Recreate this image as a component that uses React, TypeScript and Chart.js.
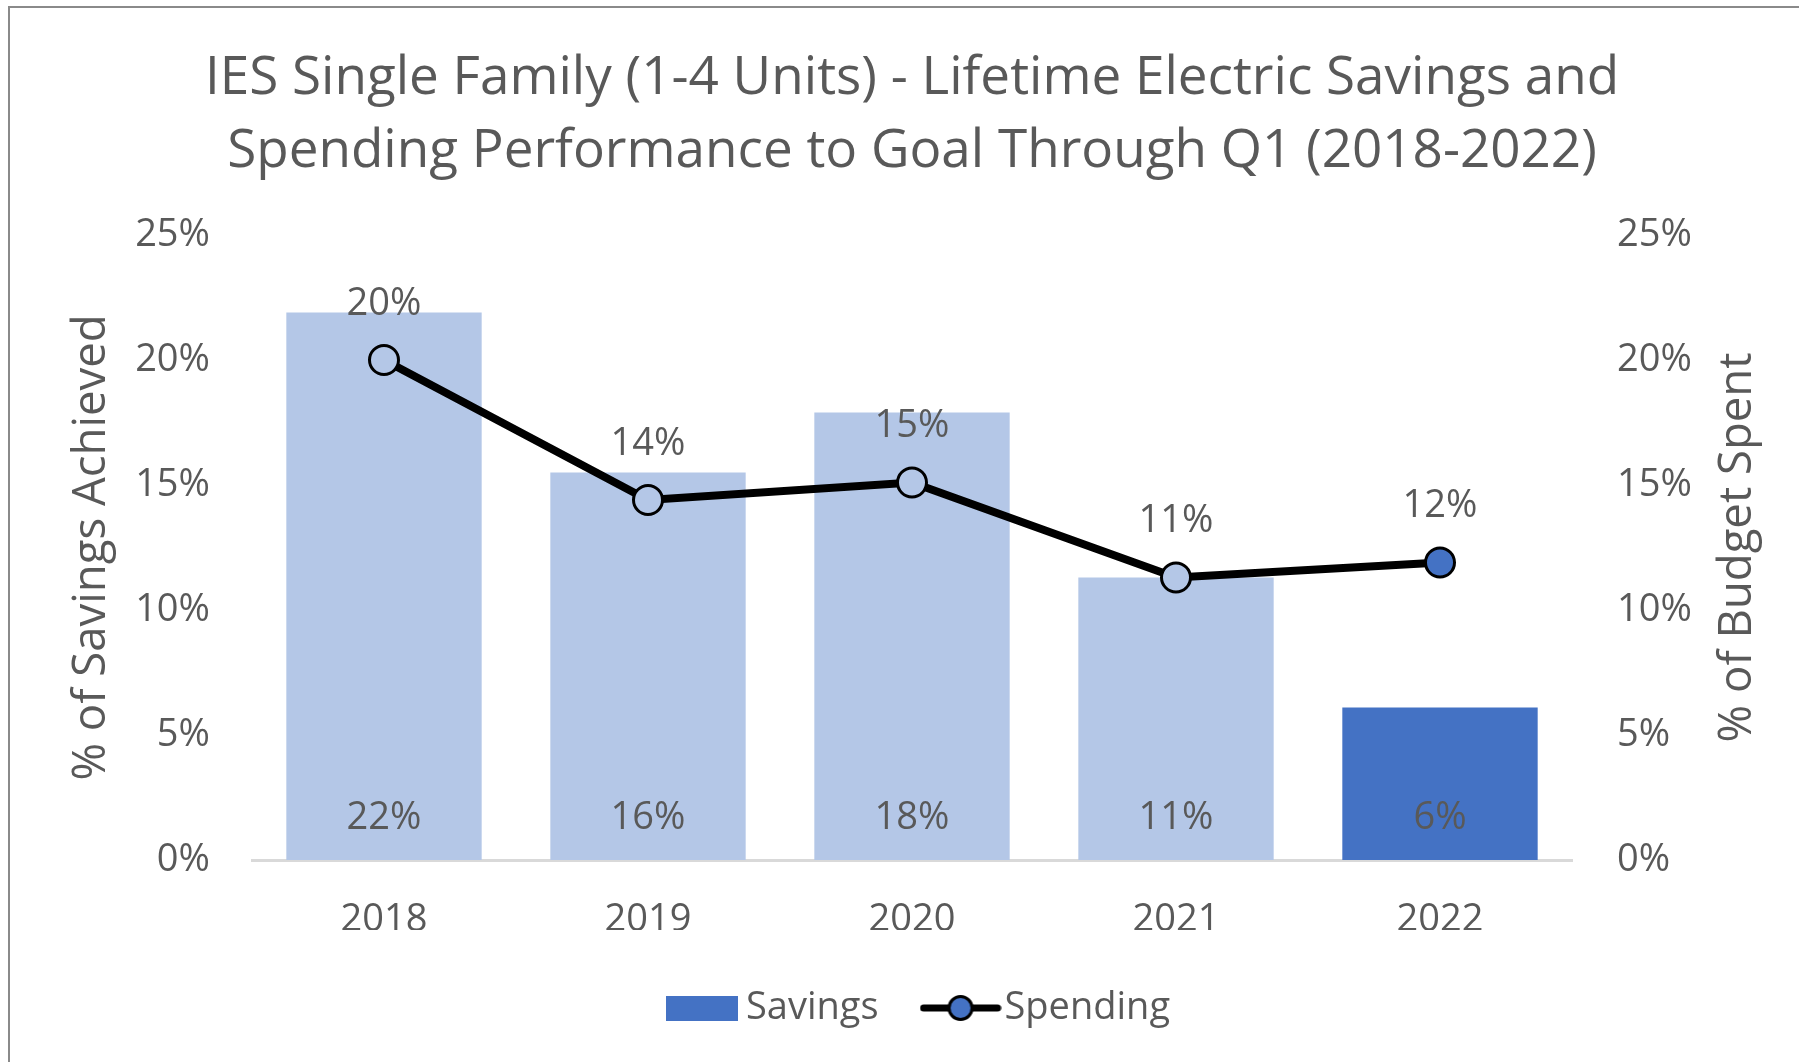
import { useEffect, useRef } from "react";
import { Chart, registerables } from "chart.js";

Chart.register(...registerables);

const categories = ["2018", "2019", "2020", "2021", "2022"];
const savingsValues = [0.219, 0.155, 0.179, 0.113, 0.061];
const spendingValues = [0.2, 0.144, 0.151, 0.113, 0.119];
const barColors = ["#B4C7E7", "#B4C7E7", "#B4C7E7", "#B4C7E7", "#4472C4"];
const pointColors = ["#B4C7E7", "#B4C7E7", "#B4C7E7", "#B4C7E7", "#4472C4"];
const titleLines = [
  "IES Single Family (1-4 Units) - Lifetime Electric Savings and",
  "Spending Performance to Goal Through Q1 (2018-2022)",
];
const leftAxisTitle = "% of Savings Achieved";
const rightAxisTitle = "% of Budget Spent";
const seriesNames = ["Savings", "Spending"];
const axisMin = 0;
const axisMax = 0.25;
const axisStep = 0.05;

const FONT = "'Open Sans', sans-serif";
const TEXT = "#595959";

const pct = (v: number) => `${Math.round(v * 100)}%`;

function makeSavingsIcon() {
  const c = document.createElement("canvas");
  c.width = 72;
  c.height = 25;
  const ctx = c.getContext("2d")!;
  ctx.fillStyle = "#4472C4";
  ctx.fillRect(0, 0, 72, 25);
  return c;
}

function makeSpendingIcon() {
  const c = document.createElement("canvas");
  c.width = 82;
  c.height = 30;
  const ctx = c.getContext("2d")!;
  ctx.strokeStyle = "#000";
  ctx.lineWidth = 7;
  ctx.lineCap = "round";
  ctx.beginPath();
  ctx.moveTo(4, 15);
  ctx.lineTo(78, 15);
  ctx.stroke();
  ctx.beginPath();
  ctx.arc(41, 15, 11.5, 0, Math.PI * 2);
  ctx.fillStyle = "#4472C4";
  ctx.fill();
  ctx.lineWidth = 3;
  ctx.stroke();
  return c;
}

const dataLabelPlugin = {
  id: "dataLabels",
  afterDatasetsDraw(chart: any) {
    const ctx = chart.ctx;
    ctx.save();
    ctx.font = `38px ${FONT}`;
    ctx.fillStyle = TEXT;
    ctx.textAlign = "center";
    ctx.textBaseline = "middle";
    const barMeta = chart.getDatasetMeta(0);
    barMeta.data.forEach((el: any, i: number) => {
      ctx.fillText(pct(savingsValues[i]), el.x, el.base - 42);
    });
    const lineMeta = chart.getDatasetMeta(1);
    lineMeta.data.forEach((el: any, i: number) => {
      ctx.fillText(pct(spendingValues[i]), el.x, el.y - 56);
    });
    ctx.restore();
  },
};

const rightTitlePlugin = {
  id: "rightTitle",
  afterDraw(chart: any) {
    const s = chart.scales.y1;
    const ctx = chart.ctx;
    ctx.save();
    ctx.font = `45.5px ${FONT}`;
    ctx.fillStyle = TEXT;
    ctx.textAlign = "center";
    ctx.textBaseline = "middle";
    ctx.translate(s.right - 61, (s.top + s.bottom) / 2);
    ctx.rotate(-Math.PI / 2);
    ctx.fillText(rightAxisTitle, 0, 0);
    ctx.restore();
  },
};

const boxShiftPlugin = {
  id: "boxShift",
  afterLayout(chart: any) {
    const lg = chart.legend;
    if (lg) {
      lg.left += 11.5;
      lg.right += 11.5;
      lg.top += 2;
      lg.bottom += 2;
    }
    const tb = chart.titleBlock;
    if (tb) {
      tb.left += 12.5;
      tb.right += 12.5;
    }
  },
};

export default function App() {
  const ref = useRef<HTMLCanvasElement>(null);

  useEffect(() => {
    document.documentElement.style.overflow = "hidden";
    document.body.style.overflow = "hidden";
    const savingsIcon = makeSavingsIcon();
    const spendingIcon = makeSpendingIcon();
    const chart = new Chart(ref.current!, {
      type: "bar",
      data: {
        labels: categories,
        datasets: [
          {
            type: "bar",
            label: seriesNames[0],
            data: savingsValues,
            backgroundColor: barColors,
            yAxisID: "y",
            order: 1,
            categoryPercentage: 1,
            barPercentage: 0.74,
          },
          {
            type: "line",
            label: seriesNames[1],
            data: spendingValues,
            borderColor: "#000000",
            borderWidth: 8,
            pointRadius: 14.5,
            pointBorderWidth: 3,
            pointBorderColor: "#000000",
            pointBackgroundColor: pointColors,
            yAxisID: "y1",
            order: 0,
            tension: 0,
          },
        ],
      } as any,
      options: {
        responsive: false,
        animation: false,
        maintainAspectRatio: false,
        layout: { padding: { left: 0, right: 0, top: 0, bottom: 27 } },
        plugins: {
          tooltip: { enabled: false },
          title: {
            display: true,
            fullSize: true,
            text: titleLines,
            color: TEXT,
            font: { family: FONT, size: 53, weight: "normal", lineHeight: 1.385 },
            padding: { top: 42, bottom: 46.2 },
          },
          legend: {
            display: true,
            position: "bottom",
            fullSize: false,
            labels: {
              usePointStyle: true,
              pointStyleWidth: 50,
              padding: 57,
              color: TEXT,
              font: { family: FONT, size: 38 },
              generateLabels: () => [
                {
                  text: seriesNames[0],
                  pointStyle: savingsIcon,
                  fillStyle: "#4472C4",
                  strokeStyle: "#4472C4",
                  lineWidth: 0,
                  hidden: false,
                  datasetIndex: 0,
                  fontColor: TEXT,
                },
                {
                  text: seriesNames[1],
                  pointStyle: spendingIcon,
                  fillStyle: "#4472C4",
                  strokeStyle: "#000",
                  lineWidth: 0,
                  hidden: false,
                  datasetIndex: 1,
                  fontColor: TEXT,
                },
              ],
            },
          },
        },
        scales: {
          x: {
            grid: { display: false, drawTicks: false },
            border: { display: true, color: "#D9D9D9", width: 3 },
            ticks: { color: TEXT, font: { family: FONT, size: 38 }, padding: 37 },
            afterFit: (s: any) => {
              s.height = 70;
            },
          },
          y: {
            position: "left",
            min: axisMin,
            max: axisMax,
            grid: { display: false, drawTicks: false },
            border: { display: false },
            ticks: {
              stepSize: axisStep,
              color: TEXT,
              font: { family: FONT, size: 38 },
              padding: 42,
              callback: (v: any) => pct(Number(v)),
            },
            title: {
              display: true,
              text: leftAxisTitle,
              color: TEXT,
              font: { family: FONT, size: 45.5, lineHeight: 1.2 },
              padding: { top: 64.7, bottom: 0 },
            },
            afterFit: (s: any) => {
              s.width = 252;
            },
          },
          y1: {
            position: "right",
            min: axisMin,
            max: axisMax,
            grid: { display: false, drawTicks: false },
            border: { display: false },
            ticks: {
              stepSize: axisStep,
              color: TEXT,
              font: { family: FONT, size: 38 },
              padding: 45,
              callback: (v: any) => pct(Number(v)),
            },
            afterFit: (s: any) => {
              s.width = 227;
            },
          },
        },
      } as any,
      plugins: [dataLabelPlugin, rightTitlePlugin, boxShiftPlugin],
    });
    return () => chart.destroy();
  }, []);

  return (
    <div>
      <div
        style={{
          position: "fixed",
          left: 8,
          top: 6,
          width: 1791,
          height: 1056,
          borderLeft: "2px solid #8a8a8a",
          borderTop: "2px solid #8a8a8a",
          boxSizing: "border-box",
          background: "#fff",
        }}
      />
      <canvas
        ref={ref}
        width={1799}
        height={1062}
        style={{ position: "fixed", left: 0, top: 0, width: 1799, height: 1062 }}
      />
    </div>
  );
}
